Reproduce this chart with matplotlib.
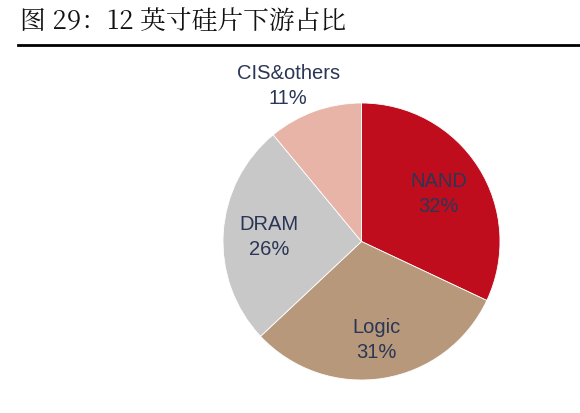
import numpy as np
import matplotlib.pyplot as plt

plt.rcParams["font.family"] = ["Noto Sans CJK SC", "DejaVu Sans"]

names = ["NAND", "Logic", "DRAM", "CIS&others"]
shares = [32, 31, 26, 11]
colors = ["#C00D1E", "#B8987A", "#C8C8C8", "#E8B4A8"]
label_dist = [0.66, 0.71, 0.67, 1.25]
txt_color = "#2B3656"

fig = plt.figure(figsize=(5.8, 4.14), dpi=100)

# title and rule
fig.text(20 / 580, 1 - 22 / 414, "图 29：12 英寸硅片下游占比", fontsize=18.5,
         va="center", ha="left", color="#111111",
         family=["Noto Serif CJK SC", "Noto Sans CJK SC", "DejaVu Sans"])
fig.add_artist(plt.Line2D([18 / 580, 1.0], [1 - 46 / 414] * 2, color="black", lw=2))

ax = fig.add_axes([223 / 580, 33 / 414, 277 / 580, 277 / 414])
wedges, texts = ax.pie(shares, colors=colors, startangle=90, counterclock=False,
                       labels=[f"{n}\n{s}%" for n, s in zip(names, shares)],
                       labeldistance=1.0,
                       wedgeprops=dict(linewidth=0.6, edgecolor="white"))
for w, t, d in zip(wedges, texts, label_dist):
    ang = np.deg2rad((w.theta1 + w.theta2) / 2)
    if t.get_text().startswith("CIS"):
        ang = np.deg2rad(115)
    t.set_position((d * np.cos(ang), d * np.sin(ang)))
    t.set_ha("center")
    t.set_va("center")
    t.set_color(txt_color)
    t.set_fontsize(14.5)
    t.set_family(["Arial", "Liberation Sans", "DejaVu Sans"])
    t.set_linespacing(1.4)
ax.set_xlim(-1, 1)
ax.set_ylim(-1, 1)
ax.set_aspect("equal")

fig.savefig("out.png", dpi=100)
